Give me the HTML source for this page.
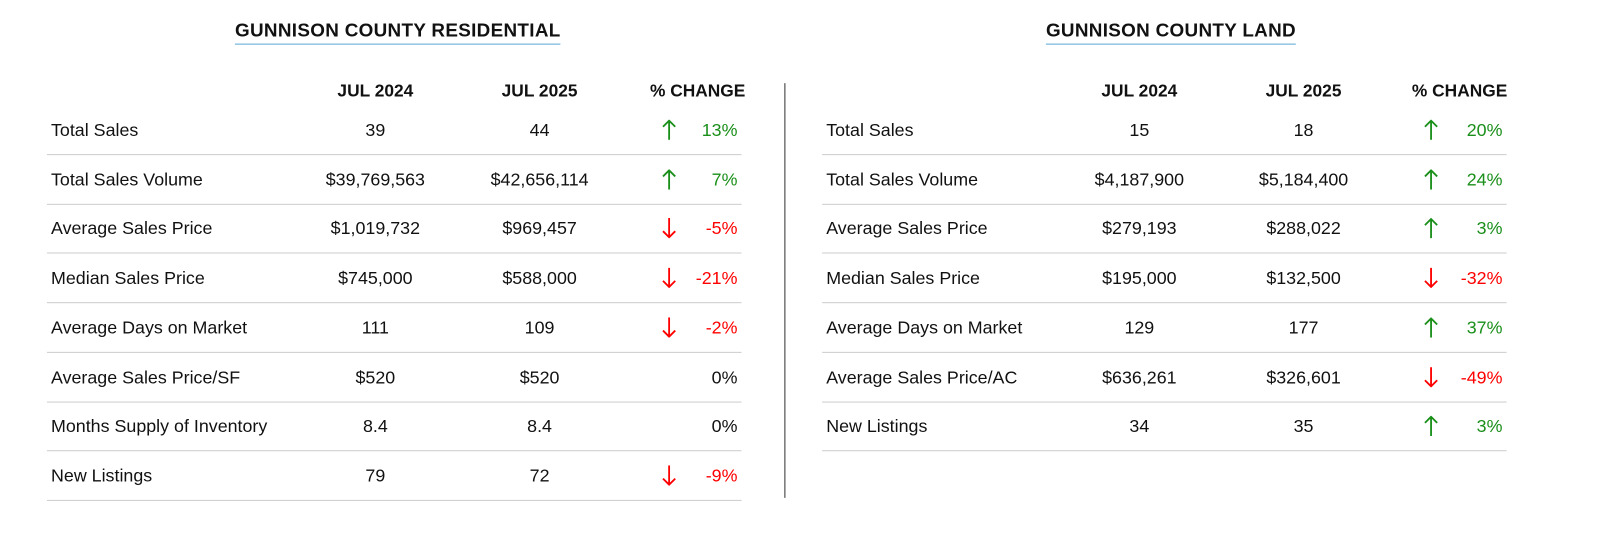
<!DOCTYPE html>
<html><head><meta charset="utf-8">
<style>
body{margin:0;width:1600px;height:533px;background:#fff;font-family:"Liberation Sans",sans-serif;color:#111;position:relative;overflow:hidden}
#wrap{position:absolute;left:0;top:0;width:1600px;height:533px;transform:scale(1.02,1.014);transform-origin:0 0}
.title{position:absolute;top:19px;font-weight:bold;font-size:18.5px;letter-spacing:0.3px;border-bottom:1.5px solid #5aa7d8;padding-bottom:2px;transform:translateX(-50%);white-space:nowrap}
.hdr{position:absolute;top:80px;font-weight:bold;font-size:17px;transform:translateX(-50%);white-space:nowrap}
.row{position:absolute;height:49px;border-bottom:1.5px solid #ccc;font-size:17.5px}
.row span{position:absolute;top:15px;white-space:nowrap}
.c{transform:translateX(-50%)}
.up{color:#1a8f1a}.dn{color:#f00}
svg.ar{position:absolute;top:15px}
</style></head><body>
<div id="wrap">
<div class="title" style="left:390px">GUNNISON COUNTY RESIDENTIAL</div>
<div class="title" style="left:1148px">GUNNISON COUNTY LAND</div>
<div style="position:absolute;left:769px;top:82px;width:1px;height:409px;background:#333"></div>
<div id="root"></div>
</div>
<script>
const resLabels=["Total Sales","Total Sales Volume","Average Sales Price","Median Sales Price","Average Days on Market","Average Sales Price/SF","Months Supply of Inventory","New Listings"];
const res2024=["39","$39,769,563","$1,019,732","$745,000","111","$520","8.4","79"];
const res2025=["44","$42,656,114","$969,457","$588,000","109","$520","8.4","72"];
const resChg=[13,7,-5,-21,-2,0,0,-9];
const landLabels=["Total Sales","Total Sales Volume","Average Sales Price","Median Sales Price","Average Days on Market","Average Sales Price/AC","New Listings"];
const land2024=["15","$4,187,900","$279,193","$195,000","129","$636,261","34"];
const land2025=["18","$5,184,400","$288,022","$132,500","177","$326,601","35"];
const landChg=[20,24,3,-32,37,-49,3];
const root=document.getElementById('root');
function table(prefix,x0,w,c1,c2,ca,labels,a,b,chg){
  [["JUL 2024",c1],["JUL 2025",c2],["% CHANGE",ca+28]].forEach((h,i)=>{
    const d=document.createElement('div');d.className='hdr';d.style.left=h[1]+'px';d.textContent=h[0];
    
    
    root.appendChild(d);
  });
  labels.forEach((l,i)=>{
    const r=document.createElement('div');r.className='row';
    
    
    r.style.left=x0+'px';r.style.width=w+'px';r.style.top=(103+i*48.7)+'px';
    const v=chg[i];const cls=v>0?'up':(v<0?'dn':'');
    let html=`<span style="left:4px">${l}</span><span class="c" style="left:${c1-x0}px">${a[i]}</span><span class="c" style="left:${c2-x0}px">${b[i]}</span><span class="${cls}" style="right:4px">${v}%</span>`;
    if(v!==0){const col=v>0?'#1a8f1a':'#f00';
      const path=v>0?'M7 20V1M1 7L7 1L13 7':'M7 0V19M1 13L7 19L13 13';
      html+=`<svg class="ar" width="14" height="20" style="left:${ca-x0-7}px"><path d="${path}" stroke="${col}" stroke-width="1.8" fill="none"/></svg>`;}
    r.innerHTML=html;root.appendChild(r);
  });
}
table('res',46,681,368,529,656,resLabels,res2024,res2025,resChg);
table('land',806,671,1117,1278,1403,landLabels,land2024,land2025,landChg);
</script>
</body></html>
